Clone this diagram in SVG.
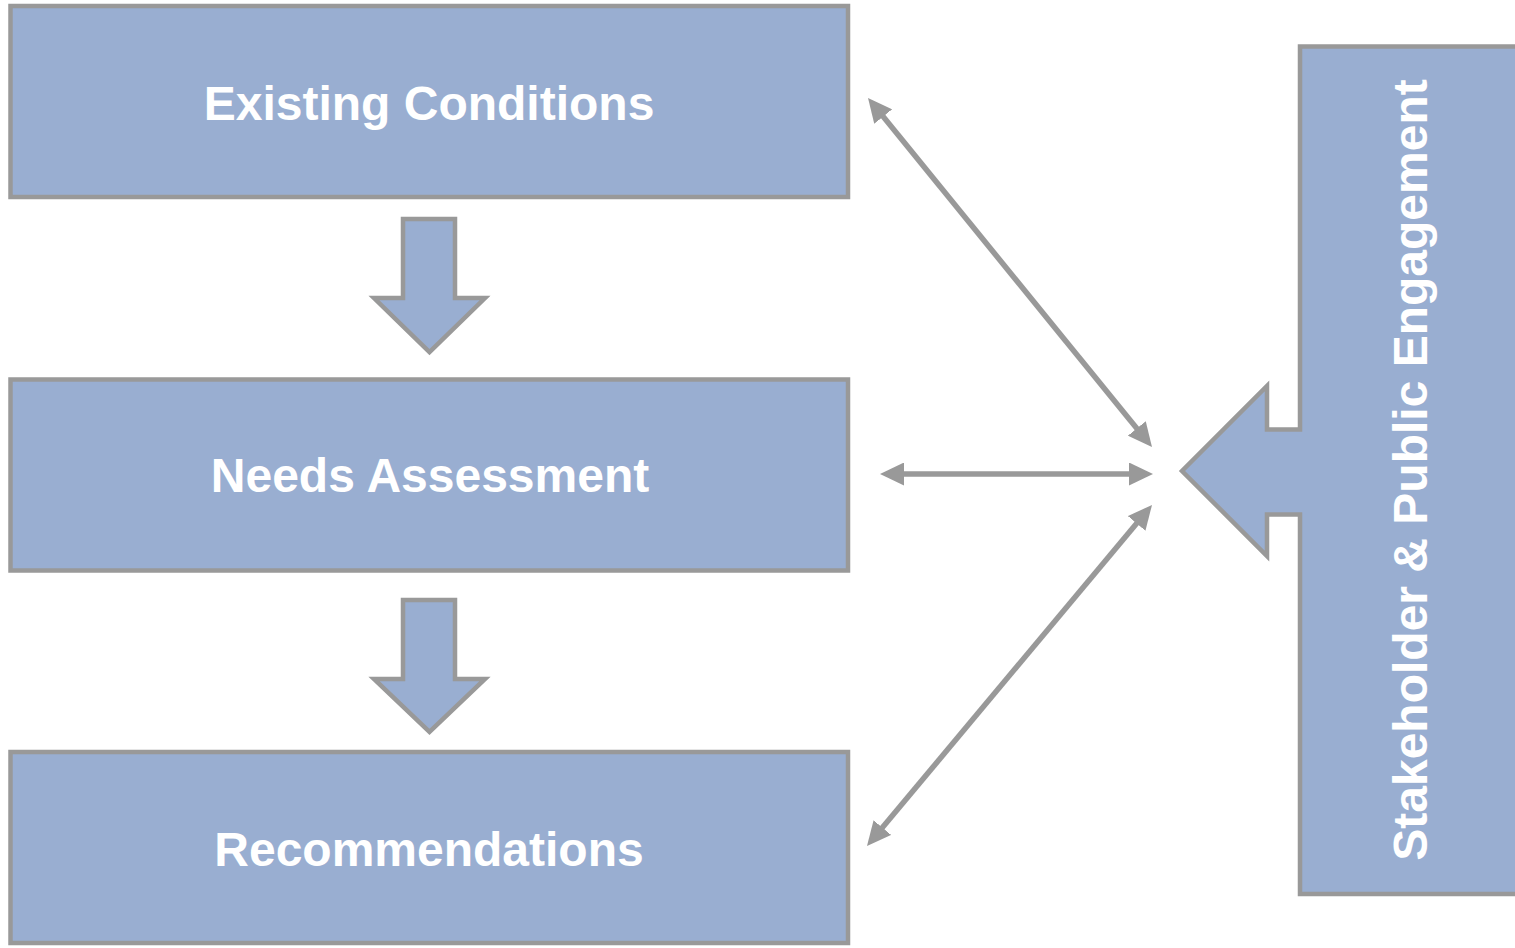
<svg xmlns="http://www.w3.org/2000/svg" width="1515" height="948" viewBox="0 0 1515 948">
<style>
.box{fill:#99AED1;stroke:#999999;stroke-width:4.5}
.lbl{font-family:"Liberation Sans",Arial,sans-serif;font-weight:bold;font-size:48px;fill:#ffffff;text-anchor:middle}
.con{stroke:#999999;stroke-width:5.5;fill:none;marker-start:url(#ah);marker-end:url(#ah)}
</style>
<defs>
<marker id="ah" viewBox="0 0 24 23" refX="12" refY="11.5" markerWidth="24" markerHeight="23" markerUnits="userSpaceOnUse" orient="auto-start-reverse">
<path d="M0,0 L24,11.5 L0,23 z" fill="#999999"/>
</marker>
</defs>
<rect width="1515" height="948" fill="#ffffff"/>
<g id="existing-conditions">
<rect class="box" x="10.5" y="6" width="837.5" height="191"/>
<text class="lbl" x="429" y="120">Existing Conditions</text>
</g>
<g id="arrow-down-1">
<polygon class="box" points="403,219 455,219 455,298 485,298 429.5,352 374,298 403,298"/>
</g>
<g id="needs-assessment">
<rect class="box" x="10.5" y="379.5" width="837.5" height="191"/>
<text class="lbl" x="430" y="492">Needs Assessment</text>
</g>
<g id="arrow-down-2">
<polygon class="box" points="403,600 455,600 455,679 485,679 429.5,732 374,679 403,679"/>
</g>
<g id="recommendations">
<rect class="box" x="10.5" y="752" width="837.5" height="191"/>
<text class="lbl" x="429" y="866">Recommendations</text>
</g>
<g id="stakeholder-engagement">
<polygon class="box" points="1300,46.5 1522,46.5 1522,894 1300,894 1300,514.5 1267,514.5 1267,556 1182,471 1267,386 1267,429.5 1300,429.5"/>
<text class="lbl" transform="translate(1427,470) rotate(-90)">Stakeholder &amp; Public Engagement</text>
</g>
<g id="connectors">
<line class="con" x1="875.6" y1="107.3" x2="1144.4" y2="437.7"/>
<line class="con" x1="892" y1="474" x2="1141" y2="474"/>
<line class="con" x1="1144.3" y1="514.2" x2="874.7" y2="836.8"/>
</g>
</svg>
